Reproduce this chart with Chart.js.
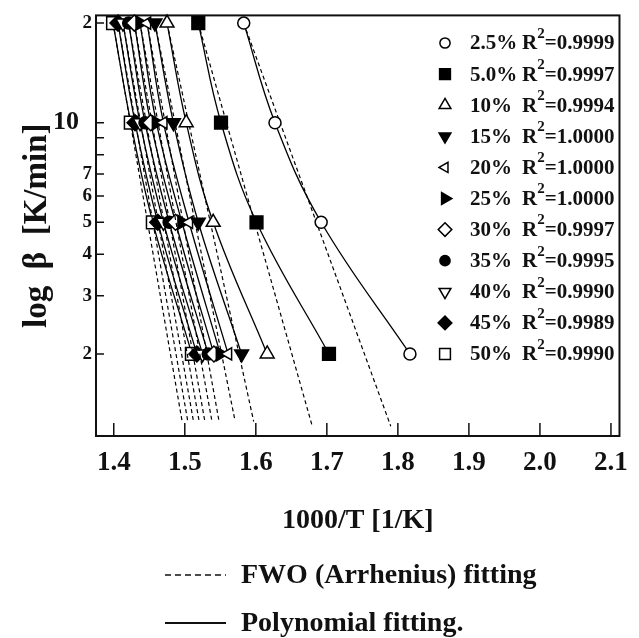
<!DOCTYPE html>
<html>
<head>
<meta charset="utf-8">
<script src="https://cdn.jsdelivr.net/npm/chart.js@4.4.1/dist/chart.umd.min.js"></script>
<style>
  html, body { margin: 0; padding: 0; background: #fff; }
</style>
</head>
<body>
<canvas id="myChart" width="639" height="638"></canvas>
<script>
// conversion levels and R^2 of the polynomial fits
var conversions = ['2.5%', '5.0%', '10%', '15%', '20%', '25%', '30%', '35%', '40%', '45%', '50%'];
var rSquared = ['0.9999', '0.9997', '0.9994', '1.0000', '1.0000', '1.0000', '0.9997', '0.9995', '0.9990', '0.9989', '0.9990'];

// heating rates (K/min) and the 1000/T read at each rate, one value per conversion
var heatingRates = [20, 10, 5, 2];
var invT20 = [1.583, 1.519, 1.475, 1.458, 1.447, 1.437, 1.429, 1.421, 1.413, 1.406, 1.399];
var invT10 = [1.627, 1.551, 1.502, 1.484, 1.470, 1.460, 1.452, 1.444, 1.437, 1.430, 1.424];
var invT5 = [1.692, 1.601, 1.540, 1.519, 1.506, 1.496, 1.487, 1.478, 1.470, 1.462, 1.455];
var invT2 = [1.817, 1.703, 1.616, 1.580, 1.561, 1.550, 1.541, 1.533, 1.525, 1.517, 1.510];

// FWO straight lines start at the 20 K/min point and end here
var fwoEndX = [1.790, 1.679, 1.597, 1.570, 1.548, 1.538, 1.528, 1.520, 1.512, 1.504, 1.496];
var fwoEndBeta = [1.21, 1.22, 1.25, 1.28, 1.26, 1.26, 1.26, 1.26, 1.26, 1.26, 1.26];

// axis ticks
var xTicks = [1.4, 1.5, 1.6, 1.7, 1.8, 1.9, 2.0, 2.1];
var yTicks = [2, 3, 4, 5, 6, 7, 8, 9, 10, 20];
var yTickLabels = ['2', '3', '4', '5', '6', '7', '', '', '10\u2002', '2'];

var serif = '"Liberation Serif", "Times New Roman", serif';

var markers = [
  {pointStyle: 'circle', radius: 6, fill: '#fff'},
  {pointStyle: 'rect', radius: 9, fill: '#000'},
  {pointStyle: 'triangle', radius: 8, fill: '#fff'},
  {pointStyle: 'triangle', rotation: 180, radius: 8, fill: '#000'},
  {pointStyle: 'triangle', rotation: 270, radius: 7, fill: '#fff'},
  {pointStyle: 'triangle', rotation: 90, radius: 8, fill: '#000'},
  {pointStyle: 'rectRot', radius: 8, fill: '#fff'},
  {pointStyle: 'circle', radius: 6, fill: '#000'},
  {pointStyle: 'triangle', rotation: 180, radius: 8, fill: '#fff'},
  {pointStyle: 'rectRot', radius: 8, fill: '#000'},
  {pointStyle: 'rect', radius: 9, fill: '#fff'}
];

var byRate = [invT20, invT10, invT5, invT2];
var datasets = [];
conversions.forEach(function (c, i) {
  var m = markers[i];
  datasets.push({
    label: c,
    data: heatingRates.map(function (b, k) { return {x: byRate[k][i], y: b}; }),
    showLine: true,
    borderColor: '#000',
    borderWidth: 1.3,
    tension: 0.4,
    pointStyle: m.pointStyle,
    pointRotation: m.rotation || 0,
    pointRadius: m.radius,
    pointBackgroundColor: m.fill,
    pointBorderColor: '#000',
    pointBorderWidth: 1.5,
    clip: false
  });
  datasets.push({
    label: c + ' FWO',
    data: [{x: invT20[i], y: heatingRates[0]}, {x: fwoEndX[i], y: fwoEndBeta[i]}],
    showLine: true,
    borderColor: '#000',
    borderWidth: 1.2,
    borderDash: [4, 3],
    pointRadius: 0
  });
});

// box round the plot with the short inward ticks
var frame = {
  id: 'frame',
  beforeDatasetsDraw: function (chart) {
    var a = chart.chartArea, ctx = chart.ctx;
    var xs = chart.scales.x, ys = chart.scales.y;
    ctx.save();
    ctx.strokeStyle = '#111';
    ctx.lineWidth = 2;
    ctx.strokeRect(a.left, a.top, a.right - a.left, a.bottom - a.top);
    ctx.lineWidth = 1.5;
    ctx.beginPath();
    xTicks.forEach(function (v) {
      var px = xs.getPixelForValue(v);
      ctx.moveTo(px, a.bottom);
      ctx.lineTo(px, a.bottom - 13);
    });
    yTicks.forEach(function (v) {
      var py = ys.getPixelForValue(v);
      ctx.moveTo(a.left, py);
      ctx.lineTo(a.left + 8, py);
    });
    ctx.stroke();
    ctx.restore();
  }
};

// marker key inside the plot and the line key under it
var keys = {
  id: 'keys',
  afterDraw: function (chart) {
    var ctx = chart.ctx;
    ctx.save();
    ctx.textBaseline = 'middle';
    conversions.forEach(function (c, i) {
      var y = 43 + i * 31.1;
      var m = markers[i];
      ctx.fillStyle = m.fill;
      ctx.strokeStyle = '#000';
      ctx.lineWidth = 1.5;
      Chart.helpers.drawPoint(ctx, {pointStyle: m.pointStyle, rotation: m.rotation || 0, radius: m.radius * 0.85, borderWidth: 1.5}, 445, y);
      ctx.fillStyle = '#111';
      ctx.font = 'bold 21px ' + serif;
      ctx.fillText(c, 470, y + 1);
      var x = 522;
      ctx.fillText('R', x, y + 1);
      x += ctx.measureText('R').width;
      ctx.font = 'bold 15px ' + serif;
      ctx.fillText('2', x, y - 9);
      x += ctx.measureText('2').width;
      ctx.font = 'bold 21px ' + serif;
      ctx.fillText('=' + rSquared[i], x, y + 1);
    });

    ctx.textBaseline = 'alphabetic';
    ctx.font = 'bold 28px ' + serif;
    ctx.strokeStyle = '#111';
    ctx.lineWidth = 1.3;
    ctx.setLineDash([6, 4]);
    ctx.beginPath();
    ctx.moveTo(165, 575);
    ctx.lineTo(226, 575);
    ctx.stroke();
    ctx.setLineDash([]);
    ctx.lineWidth = 1.8;
    ctx.beginPath();
    ctx.moveTo(165, 623);
    ctx.lineTo(226, 623);
    ctx.stroke();
    ctx.fillText('FWO (Arrhenius) fitting', 241, 583);
    ctx.fillText('Polynomial fitting.', 241, 631);
    ctx.restore();
  }
};

var ctx = document.getElementById('myChart').getContext('2d');
var chart = new Chart(ctx, {
  type: 'scatter',
  data: {datasets: datasets},
  plugins: [frame, keys],
  options: {
    responsive: false,
    animation: false,
    layout: {padding: {top: 14, right: 9, bottom: 102, left: 0}},
    plugins: {legend: {display: false}, tooltip: {enabled: false}},
    scales: {
      x: {
        type: 'linear',
        min: 1.375,
        max: 2.112,
        afterBuildTicks: function (s) { s.ticks = xTicks.map(function (v) { return {value: v}; }); },
        afterFit: function (s) { s.height = 100; },
        grid: {display: false, drawTicks: false},
        border: {display: false},
        ticks: {
          padding: 11,
          color: '#111',
          autoSkip: false,
          maxRotation: 0,
          font: {family: serif, size: 27, weight: 'bold'},
          callback: function (v) { return v.toFixed(1); }
        },
        title: {display: true, text: '1000/T [1/K]', color: '#111', font: {family: serif, size: 28, weight: 'bold'}, padding: {top: 0, bottom: -2}}
      },
      y: {
        type: 'logarithmic',
        min: 1.13,
        max: 21.1,
        afterBuildTicks: function (s) { s.ticks = yTicks.map(function (v) { return {value: v}; }); },
        afterFit: function (s) { s.width = 96; },
        grid: {display: false, drawTicks: false},
        border: {display: false},
        ticks: {
          padding: 4,
          color: '#111',
          autoSkip: false,
          font: function (c) {
            return {family: serif, weight: 'bold', size: c.tick && c.tick.value === 10 ? 26 : 19};
          },
          callback: function (v, idx) { return yTickLabels[idx]; }
        },
        title: {display: true, text: 'log  β  [K/min]', color: '#111', font: {family: serif, size: 33, weight: 'bold'}, padding: {top: 18, bottom: 0}}
      }
    }
  }
});
</script>
</body>
</html>
